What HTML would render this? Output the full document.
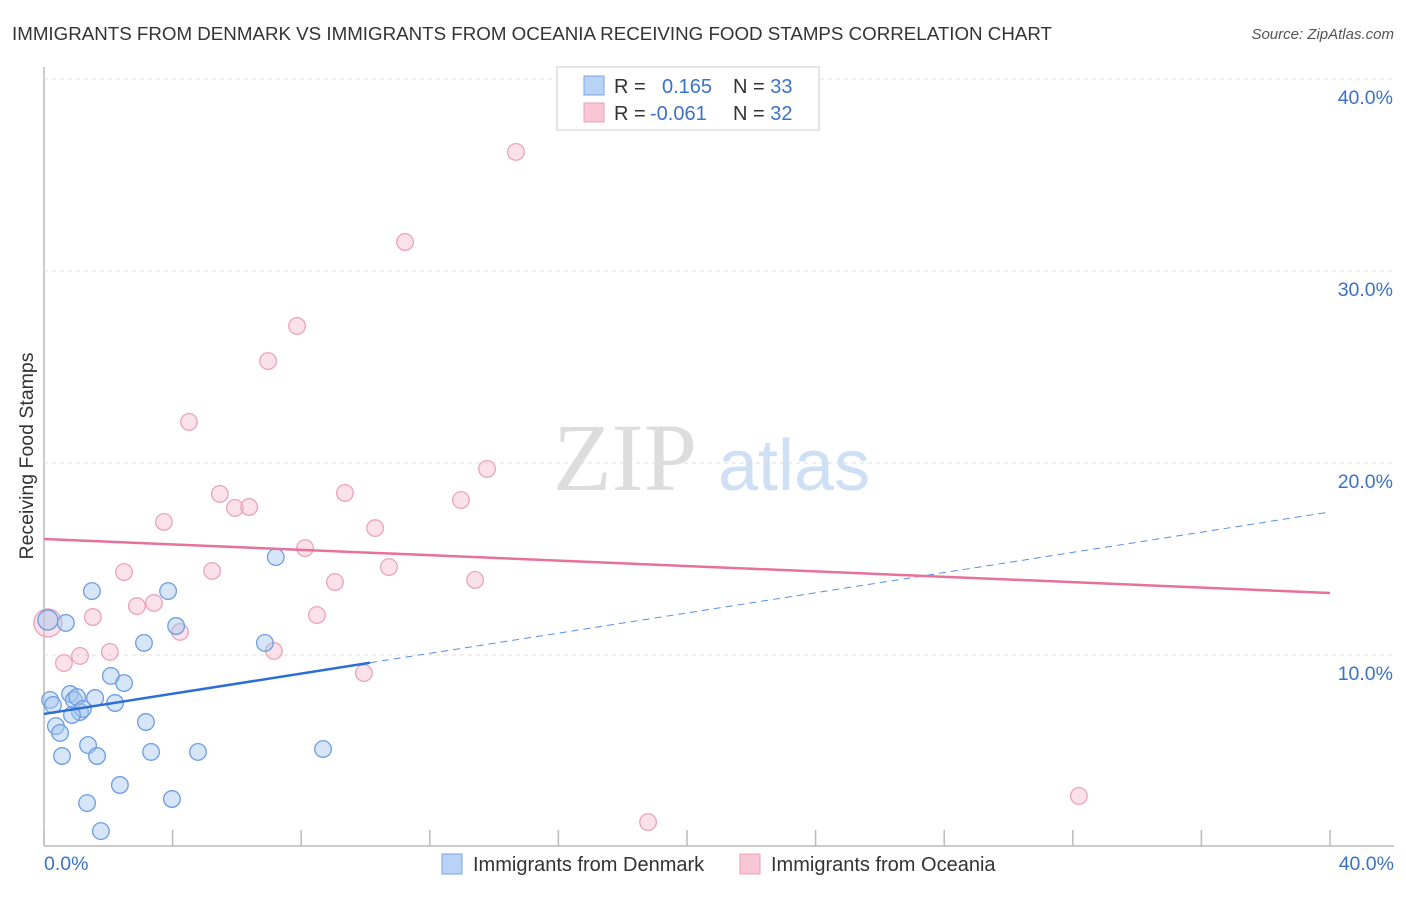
<!DOCTYPE html>
<html><head><meta charset="utf-8"><style>
body{margin:0;background:#fff;font-family:"Liberation Sans",sans-serif;}
</style></head><body>
<svg id="c" width="1406" height="892" xmlns="http://www.w3.org/2000/svg">
<text x="12" y="40" font-size="18" fill="#333" textLength="1040" lengthAdjust="spacingAndGlyphs">IMMIGRANTS FROM DENMARK VS IMMIGRANTS FROM OCEANIA RECEIVING FOOD STAMPS CORRELATION CHART</text>
<text x="1394" y="39" font-size="15" fill="#555" font-style="italic" text-anchor="end">Source: ZipAtlas.com</text>
<text x="33" y="456" font-size="19.5" fill="#333" text-anchor="middle" transform="rotate(-90 33 456)">Receiving Food Stamps</text>
<g>
<text x="553" y="490" font-size="96" font-family="Liberation Serif,serif" fill="#ddd">ZIP</text>
<text x="718" y="490" font-size="72" fill="#cfe0f5">atlas</text>
</g>
<g id="grid"></g><g id="pts"></g><g id="trend"></g>
<g>
<rect x="557" y="67" width="262" height="63" fill="#fff" stroke="#ccc"/>
<rect x="584" y="76" width="20" height="19" fill="#b8d3f5" stroke="#7aa7e0"/>
<rect x="584" y="103" width="20" height="19" fill="#f9c6d5" stroke="#eba0b8"/>
<text x="614" y="93" font-size="20" fill="#333">R = <tspan fill="#3a72c9" x="662">0.165</tspan><tspan x="733" fill="#333">N = </tspan><tspan fill="#3a72c9">33</tspan></text>
<text x="614" y="120" font-size="20" fill="#333">R = <tspan fill="#3a72c9" x="650">-0.061</tspan><tspan x="733" fill="#333">N = </tspan><tspan fill="#3a72c9">32</tspan></text>
</g>
<g>
<rect x="442" y="854" width="20" height="20" fill="#b8d3f5" stroke="#7aa7e0"/>
<text x="473" y="871" font-size="20" fill="#333">Immigrants from Denmark</text>
<rect x="740" y="854" width="20" height="20" fill="#f9c6d5" stroke="#eba0b8"/>
<text x="771" y="871" font-size="20" fill="#333">Immigrants from Oceania</text>
</g>
</svg>
<script>
const blueX=[0.12,0.68,0.19,0.28,0.37,0.50,0.56,0.81,0.93,1.03,1.12,1.21,1.37,1.49,1.59,1.65,1.34,1.77,2.08,2.21,2.36,2.49,3.11,3.17,3.33,3.86,3.98,4.11,4.79,6.87,7.21,8.68,0.87];
const blueY=[11.82,11.67,7.66,7.40,6.30,5.94,4.74,7.97,7.66,7.81,7.03,7.19,5.31,13.33,7.76,4.74,2.29,0.83,8.91,7.50,3.23,8.54,10.63,6.51,4.95,13.33,2.50,11.51,4.95,10.63,15.10,5.10,6.88];
const pinkX=[0.12,0.62,1.12,1.52,2.05,2.49,2.89,3.42,3.73,4.23,4.51,5.23,5.47,5.94,6.38,6.97,7.15,7.87,8.12,8.49,9.05,9.36,9.95,10.30,10.73,11.23,12.97,13.41,13.78,14.68,18.79,32.19];
const pinkY=[11.67,9.58,9.95,11.98,10.16,14.32,12.55,12.71,16.93,11.20,22.14,14.38,18.39,17.66,17.71,25.31,10.21,27.14,15.57,12.08,13.80,18.44,9.06,16.61,14.58,31.51,18.07,13.91,19.69,36.20,1.30,2.66];
const blueTrend=[6.93,17.45]; // y at x=0, x=40
const blueSolidEnd=10.14;
const pinkTrend=[16.04,13.23];
const yTicks=[10,20,30,40];
const NS="http://www.w3.org/2000/svg";
const sx=v=>44+v*32.15, sy=v=>847-v*19.2;
function mk(t,a,p){const e=document.createElementNS(NS,t);for(const k in a)e.setAttribute(k,a[k]);p.appendChild(e);return e;}
const grid=document.getElementById('grid');
mk('line',{x1:44,y1:67,x2:44,y2:846,stroke:'#bbb','stroke-width':1.5},grid);
const xl=mk('line',{x1:44,y1:846,x2:1394,y2:846,stroke:'#bbb','stroke-width':1.5},grid);

for(let i=0;i<=10;i++){const t=mk('line',{x1:sx(i*4),y1:830,x2:sx(i*4),y2:846,stroke:'#bbb','stroke-width':1.5},grid);
}
yTicks.forEach(v=>{const g=mk('line',{x1:44,y1:sy(v),x2:1394,y2:sy(v),stroke:'#ddd','stroke-dasharray':'4,4'},grid);

const tx=mk('text',{x:1393,y:sy(v)+25,'font-size':19.5,fill:'#3a72c9','text-anchor':'end'},grid);tx.textContent=v.toFixed(1)+'%';
});
[[0,'start',44],[40,'end',1394]].forEach(([v,a,x])=>{const t=mk('text',{x:x,y:870,'font-size':19.5,fill:'#3a72c9','text-anchor':a},grid);t.textContent=v.toFixed(1)+'%';
});
const pts=document.getElementById('pts');
pinkX.forEach((x,i)=>{const c=mk('circle',{cx:sx(x),cy:sy(pinkY[i]),r:i==0?14:8.3,fill:'rgba(246,182,202,0.4)',stroke:'#eca2b9','stroke-width':1.3},pts);
});
blueX.forEach((x,i)=>{const c=mk('circle',{cx:sx(x),cy:sy(blueY[i]),r:i==0?10:8.3,fill:'rgba(164,198,240,0.45)',stroke:'#6b9de0','stroke-width':1.3},pts);
});
const tr=document.getElementById('trend');
const by=x=>blueTrend[0]+(blueTrend[1]-blueTrend[0])*x/40;
const l1=mk('line',{x1:sx(0),y1:sy(by(0)),x2:sx(blueSolidEnd),y2:sy(by(blueSolidEnd)),stroke:'#2b6fd6','stroke-width':2.5},tr);

const l2=mk('line',{x1:sx(blueSolidEnd),y1:sy(by(blueSolidEnd)),x2:sx(40),y2:sy(by(40)),stroke:'#5b8fe0','stroke-width':1,'stroke-dasharray':'7,5'},tr);

const l3=mk('line',{x1:sx(0),y1:sy(pinkTrend[0]),x2:sx(40),y2:sy(pinkTrend[1]),stroke:'#e8719a','stroke-width':2.5},tr);

</script>
</body></html>
